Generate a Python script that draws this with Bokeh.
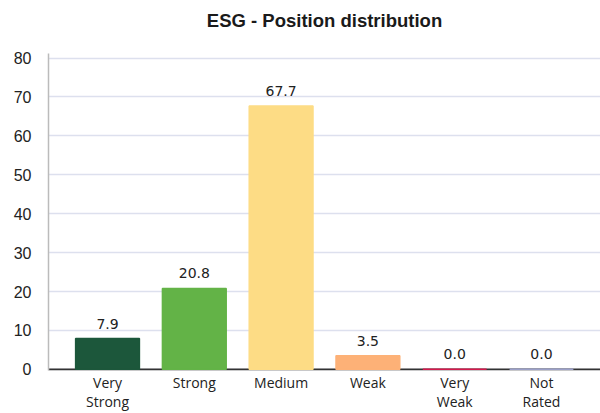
from bokeh.plotting import figure
from bokeh.models import FactorRange, Range1d, FixedTicker, ColumnDataSource, Title
from bokeh.core.properties import value
from bokeh.embed import file_html
from bokeh.resources import INLINE

categories = ["Very\nStrong", "Strong", "Medium", "Weak", "Very\nWeak", "Not\nRated"]
values = [7.9, 20.8, 67.7, 3.5, 0.0, 0.0]
colors = ["#1c573b", "#63b347", "#fddc85", "#fdb177", "#d5174b", "#9a9fc8"]
y_ticks = [0, 10, 20, 30, 40, 50, 60, 70, 80]
labels = [f"{v:.1f}" for v in values]

src = ColumnDataSource(dict(cat=categories, val=values, color=colors, label=labels))

p = figure(
    width=600, height=413,
    x_range=FactorRange(factors=categories, range_padding=0.18, range_padding_units="absolute"),
    y_range=Range1d(-0.3, 81.18),
    output_backend="svg", toolbar_location=None,
    min_border_left=48, min_border_right=0, min_border_top=0, min_border_bottom=0,
)
p.title.text = "ESG - Position distribution"
p.title.align = "center"
p.title.vertical_align = "top"
p.title.standoff = 19
p.title.text_font = "Liberation Sans"
p.title.text_font_size = "18.5px"
p.title.text_font_style = "bold"
p.title.text_color = "#1a1a1a"

# spacer between title and plot area
p.add_layout(Title(text=" ", text_font_size="1px", standoff=8), "above")

p.outline_line_color = None
p.background_fill_color = "white"

# baseline
p.hspan(y=[0], line_color="#333333", line_width=2)

p.vbar(x="cat", top="val", bottom=0, width=0.735, fill_color="color",
       line_color="color", line_width=1.5, source=src)

p.text(x="cat", y="val", text="label", text_align="center", text_baseline="alphabetic",
       y_offset=-15, text_font=value("DejaVu Sans"), text_font_size="14px",
       text_color="#222222", source=src)

p.yaxis.ticker = FixedTicker(ticks=y_ticks)
p.yaxis.axis_line_color = "#bbbbbb"
p.yaxis.axis_line_width = 1.5
p.yaxis.major_tick_line_color = None
p.yaxis.minor_tick_line_color = None
p.yaxis.major_tick_out = 0
p.yaxis.major_tick_in = 0
p.yaxis.major_label_standoff = 17
p.yaxis.major_label_text_font = "Liberation Sans"
p.yaxis.major_label_text_font_size = "16px"
p.yaxis.major_label_text_color = "#222222"

p.xaxis.axis_line_color = None
p.xaxis.major_tick_line_color = None
p.xaxis.major_tick_out = 0
p.xaxis.major_tick_in = 0
p.xaxis.major_label_standoff = 2
p.xaxis.major_label_text_font = "Open Sans"
p.xaxis.major_label_text_font_size = "14px"
p.xaxis.major_label_text_line_height = 1.0
p.xaxis.major_label_text_color = "#222222"

p.xgrid.grid_line_color = None
p.ygrid.grid_line_color = "#dde0ee"
p.ygrid.grid_line_width = 1.5
p.ygrid.ticker = FixedTicker(ticks=y_ticks)

open("out.html", "w").write(file_html(p, INLINE))
